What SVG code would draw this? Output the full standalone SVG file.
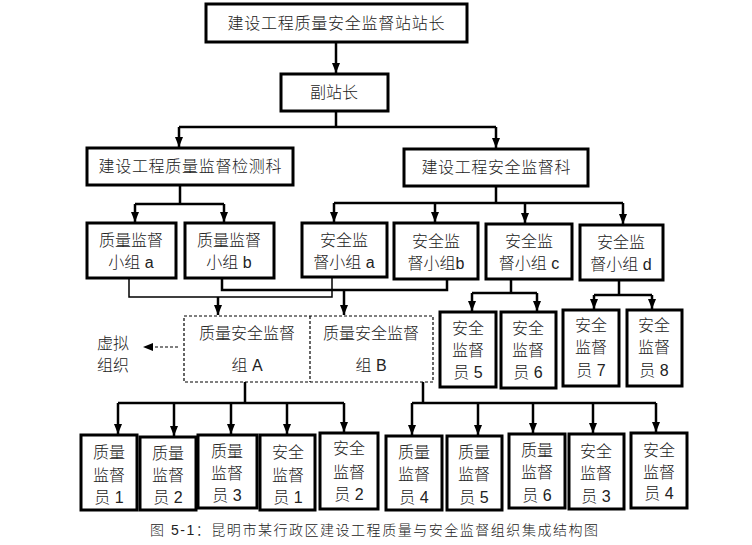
<svg xmlns="http://www.w3.org/2000/svg" width="752" height="545" viewBox="0 0 752 545">
<style>
.box{fill:#fff;stroke:#000;stroke-width:3}
.dash{fill:none;stroke:#000;stroke-width:1.2;stroke-dasharray:3 2}
.c{fill:none;stroke:#000;stroke-width:2.5}
.thin{fill:none;stroke:#000;stroke-width:1.5}
text{font-family:"Liberation Sans","Noto Sans CJK SC",sans-serif;font-size:16px;font-weight:300;fill:#222;text-anchor:middle;dominant-baseline:central}
.cap{font-size:14px}
</style>
<defs>
<marker id="ah" viewBox="0 0 10 8" refX="10" refY="4" markerWidth="10" markerHeight="8" markerUnits="userSpaceOnUse" orient="auto">
<path d="M0,0 L10,4 L0,8 z" fill="#000"/>
</marker>
</defs>
<g id="connectors">
<path class="c" d="M336,42 V73" marker-end="url(#ah)"/>
<path class="c" d="M336,112 V127 M179,127 H496"/>
<path class="c" d="M179,127 V147" marker-end="url(#ah)"/>
<path class="c" d="M496,127 V148" marker-end="url(#ah)"/>
<path class="c" d="M180,185 V204 M135,204 H224"/>
<path class="c" d="M135,204 V222" marker-end="url(#ah)"/>
<path class="c" d="M224,204 V222" marker-end="url(#ah)"/>
<path class="c" d="M496,186 V203 M334,203 H623"/>
<path class="c" d="M334,203 V222" marker-end="url(#ah)"/>
<path class="c" d="M435,203 V222" marker-end="url(#ah)"/>
<path class="c" d="M525,203 V223" marker-end="url(#ah)"/>
<path class="c" d="M623,203 V224" marker-end="url(#ah)"/>
<path class="thin" d="M129,278 V297 H332 V277"/>
<path class="c" d="M222,278 V290 H447 V279"/>
<path class="c" d="M218,297 V315" marker-end="url(#ah)"/>
<path class="c" d="M344,290 V315" marker-end="url(#ah)"/>
<path class="dash" d="M178,347 H152" stroke-width="1.5"/>
<path d="M143,347 L153,343 L153,351 z" fill="#000"/>
<path class="c" d="M511,279 V293 M472,293 H537"/>
<path class="c" d="M472,293 V311" marker-end="url(#ah)"/>
<path class="c" d="M537,293 V311" marker-end="url(#ah)"/>
<path class="c" d="M619,280 V295 M594,295 H652"/>
<path class="c" d="M594,295 V309" marker-end="url(#ah)"/>
<path class="c" d="M652,295 V309" marker-end="url(#ah)"/>
<path class="c" d="M245,382 V403 M118,403 H344"/>
<path class="c" d="M118,403 V434" marker-end="url(#ah)"/>
<path class="c" d="M174,403 V436" marker-end="url(#ah)"/>
<path class="c" d="M231,403 V434" marker-end="url(#ah)"/>
<path class="c" d="M287,403 V434" marker-end="url(#ah)"/>
<path class="c" d="M344,403 V432" marker-end="url(#ah)"/>
<path class="c" d="M423,382 V403 M412,403 H656"/>
<path class="c" d="M412,403 V435" marker-end="url(#ah)"/>
<path class="c" d="M478,403 V435" marker-end="url(#ah)"/>
<path class="c" d="M533,403 V433" marker-end="url(#ah)"/>
<path class="c" d="M593,403 V433" marker-end="url(#ah)"/>
<path class="c" d="M656,403 V432" marker-end="url(#ah)"/>
</g>
<g id="n-top"><rect class="box" x="206" y="4" width="261" height="38"/><text x="336" y="23" textLength="217" lengthAdjust="spacing">建设工程质量安全监督站站长</text></g>
<g id="n-deputy"><rect class="box" x="281" y="74" width="107" height="37"/><text x="334" y="92">副站长</text></g>
<g id="n-qdept"><rect class="box" x="87" y="148" width="206" height="37"/><text x="190" y="166" textLength="183" lengthAdjust="spacing">建设工程质量监督检测科</text></g>
<g id="n-sdept"><rect class="box" x="404" y="149" width="184" height="37"/><text x="496" y="167" textLength="149" lengthAdjust="spacing">建设工程安全监督科</text></g>
<g id="n-qa"><rect class="box" x="87" y="223" width="89" height="55"/><text x="131" y="240">质量监督</text><text x="131" y="262">小组 a</text></g>
<g id="n-qb"><rect class="box" x="185" y="223" width="89" height="55"/><text x="229" y="240">质量监督</text><text x="229" y="262">小组 b</text></g>
<g id="n-sa"><rect class="box" x="302" y="223" width="85" height="54"/><text x="344" y="240">安全监</text><text x="344" y="262">督小组 a</text></g>
<g id="n-sb"><rect class="box" x="394" y="223" width="84" height="56"/><text x="436" y="241">安全监</text><text x="436" y="263">督小组b</text></g>
<g id="n-sc"><rect class="box" x="486" y="224" width="86" height="55"/><text x="529" y="241">安全监</text><text x="529" y="263">督小组 c</text></g>
<g id="n-sd"><rect class="box" x="580" y="225" width="83" height="55"/><text x="621" y="242">安全监</text><text x="621" y="264">督小组 d</text></g>
<g id="n-virtual"><rect class="dash" x="184" y="316" width="249" height="66"/><line class="dash" x1="310" y1="316" x2="310" y2="382"/>
<text x="247" y="333">质量安全监督</text><text x="247" y="365">组 A</text>
<text x="371" y="333">质量安全监督</text><text x="371" y="365">组 B</text></g>
<g id="n-label"><text x="113" y="343">虚拟</text><text x="113" y="365">组织</text></g>
<g id="n-s5"><rect class="box" x="440" y="312" width="56" height="75"/><text x="468" y="328">安全</text><text x="468" y="350">监督</text><text x="468" y="372">员 5</text></g>
<g id="n-s6"><rect class="box" x="501" y="312" width="55" height="76"/><text x="528" y="328">安全</text><text x="528" y="350">监督</text><text x="528" y="372">员 6</text></g>
<g id="n-s7"><rect class="box" x="563" y="310" width="56" height="76"/><text x="591" y="325">安全</text><text x="591" y="347">监督</text><text x="591" y="370">员 7</text></g>
<g id="n-s8"><rect class="box" x="627" y="310" width="55" height="76"/><text x="654" y="325">安全</text><text x="654" y="347">监督</text><text x="654" y="370">员 8</text></g>
<g id="n-bq1"><rect class="box" x="81" y="435" width="56" height="75"/><text x="109" y="452">质量</text><text x="109" y="475">监督</text><text x="109" y="497">员 1</text></g>
<g id="n-bq2"><rect class="box" x="140" y="437" width="56" height="73"/><text x="168" y="453">质量</text><text x="168" y="475">监督</text><text x="168" y="497">员 2</text></g>
<g id="n-bq3"><rect class="box" x="198" y="435" width="59" height="73"/><text x="227" y="451">质量</text><text x="227" y="473">监督</text><text x="227" y="495">员 3</text></g>
<g id="n-bs1"><rect class="box" x="260" y="435" width="55" height="75"/><text x="288" y="452">安全</text><text x="288" y="475">监督</text><text x="288" y="497">员 1</text></g>
<g id="n-bs2"><rect class="box" x="320" y="433" width="58" height="76"/><text x="349" y="448">安全</text><text x="349" y="472">监督</text><text x="349" y="494">员 2</text></g>
<g id="n-bq4"><rect class="box" x="386" y="436" width="56" height="74"/><text x="414" y="452">质量</text><text x="414" y="474">监督</text><text x="414" y="497">员 4</text></g>
<g id="n-bq5"><rect class="box" x="447" y="436" width="55" height="74"/><text x="474" y="452">质量</text><text x="474" y="474">监督</text><text x="474" y="497">员 5</text></g>
<g id="n-bq6"><rect class="box" x="509" y="434" width="56" height="74"/><text x="537" y="450">质量</text><text x="537" y="472">监督</text><text x="537" y="495">员 6</text></g>
<g id="n-bs3"><rect class="box" x="569" y="434" width="55" height="75"/><text x="596" y="451">安全</text><text x="596" y="473">监督</text><text x="596" y="496">员 3</text></g>
<g id="n-bs4"><rect class="box" x="631" y="433" width="56" height="75"/><text x="659" y="450">安全</text><text x="659" y="472">监督</text><text x="659" y="493">员 4</text></g>
<text class="cap" x="374" y="530" textLength="448" lengthAdjust="spacing">图 5-1：昆明市某行政区建设工程质量与安全监督组织集成结构图</text>
</svg>
